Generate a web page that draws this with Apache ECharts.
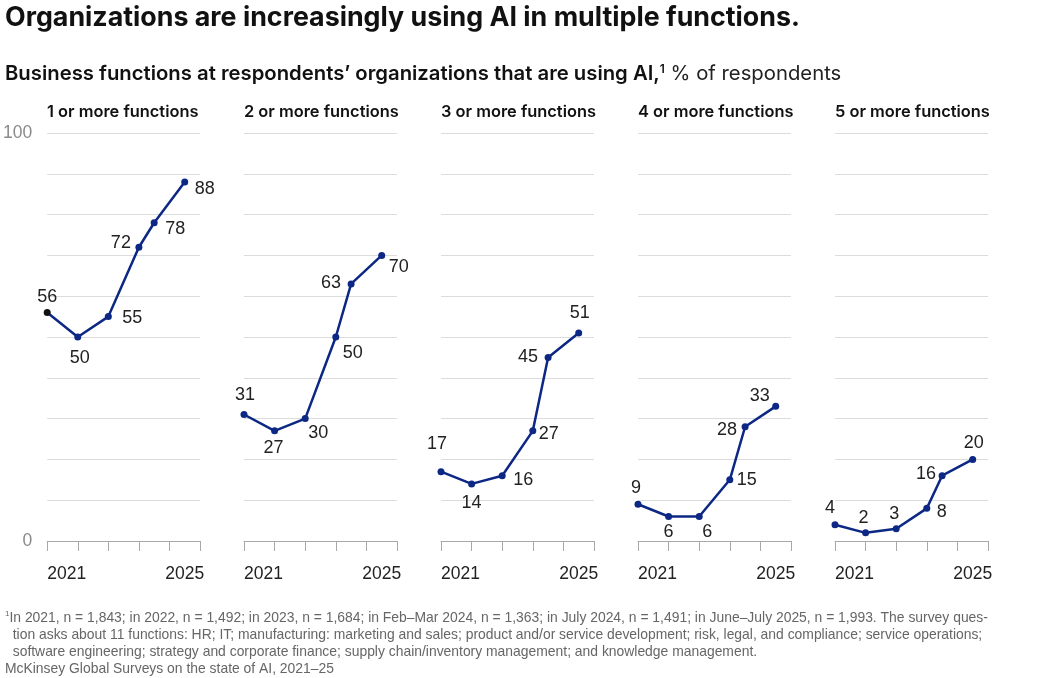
<!DOCTYPE html>
<html>
<head>
<meta charset="utf-8">
<script src="https://cdn.jsdelivr.net/npm/echarts@6/dist/echarts.min.js"></script>
<style>
html,body{margin:0;padding:0;background:#fff;}
#chart{width:1037px;height:678px;}
</style>
</head>
<body>
<div id="chart"></div>
<script>
// ---- Data ----
const panelTitles = ['1 or more functions','2 or more functions','3 or more functions','4 or more functions','5 or more functions'];
const surveyPeriods = ['2021','2022','2023','Feb–Mar 2024','July 2024','June–July 2025'];
const surveyTime = [2021, 2022, 2023, 2024, 2024.5, 2025.5];
const oneOrMore   = [56, 50, 55, 72, 78, 88];
const twoOrMore   = [31, 27, 30, 50, 63, 70];
const threeOrMore = [17, 14, 16, 27, 45, 51];
const fourOrMore  = [9, 6, 6, 15, 28, 33];
const fiveOrMore  = [4, 2, 3, 8, 16, 20];
const xTickLabels = ['2021', '2025'];
const yTickLabels = ['0', '100'];

// ---- Layout / styling (not data) ----
const seriesValues = [oneOrMore, twoOrMore, threeOrMore, fourOrMore, fiveOrMore];
const labelOffsets = [
  [[0,-15],[2,21],[24,1],[-18,-4],[21,6],[20,7]],
  [[1,-19],[-1,17],[13,14],[17,16],[-20,-1],[17,12]],
  [[-4,-28],[0,19],[21,4],[16,3],[-20,0],[1,-20]],
  [[-2,-16],[0,16],[8,16],[17,0],[-18,3],[-16,-10]],
  [[-5,-17],[-2,-15],[-2,-15],[15,4],[-16,-2],[1,-16]]
];
const gridLefts = [47, 244, 441, 638, 835];
const gridWidth = 153;
const navy = '#0c2784';
const numFont = '"Liberation Sans", Arial, sans-serif';
const headFont = 'Inter, "Liberation Sans", sans-serif';

const grids = [], xAxes = [], yAxes = [], series = [], graphics = [];
gridLefts.forEach((left, i) => {
  grids.push({left: left, top: 133, width: gridWidth, height: 408, containLabel: false});
  xAxes.push({
    type: 'value', gridIndex: i, min: 2021, max: 2026, interval: 1,
    axisLine: {show: true, lineStyle: {color: '#a8a8a8', width: 1}},
    axisTick: {show: true, length: 10, inside: false, lineStyle: {color: '#a8a8a8'}},
    splitLine: {show: false},
    axisLabel: {
      show: true, customValues: [surveyTime[0], surveyTime[surveyTime.length-1]],
      formatter: v => (v === surveyTime[0] ? xTickLabels[0] : xTickLabels[1]),
      alignMinLabel: 'left',
      color: '#222', fontSize: 17.5, fontFamily: numFont, margin: 24
    }
  });
  yAxes.push({
    type: 'value', gridIndex: i, min: 0, max: 100, interval: 10,
    axisLine: {show: false}, axisTick: {show: false},
    splitLine: {show: true, lineStyle: {color: '#dcdcdc', width: 1}},
    axisLabel: {
      show: i === 0, color: '#8a8a8a', fontSize: 17.5, fontFamily: numFont, margin: 15,
      formatter: v => (v === 0 ? yTickLabels[0] : (v === 100 ? yTickLabels[1] : ''))
    }
  });
  series.push({
    type: 'line', xAxisIndex: i, yAxisIndex: i,
    data: seriesValues[i].map((v, j) => ({
      value: [surveyTime[j], v],
      name: surveyPeriods[j],
      itemStyle: (i === 0 && j === 0) ? {color: '#111'} : undefined,
      label: {offset: labelOffsets[i][j]}
    })),
    symbol: 'circle', symbolSize: 7,
    lineStyle: {color: navy, width: 2.5},
    itemStyle: {color: navy},
    label: {
      show: true, position: 'inside', formatter: p => p.value[1],
      color: '#222', fontSize: 18, fontFamily: numFont, align: 'center', verticalAlign: 'middle'
    },
    emphasis: {disabled: true},
    animation: false
  });
  graphics.push({
    type: 'text', left: left, top: 104,
    style: {text: panelTitles[i], font: '600 16.4px ' + headFont, fill: '#111'}
  });
});

graphics.push({
  type: 'text', left: 5, top: 4,
  style: {text: 'Organizations are increasingly using AI in multiple functions.', font: '700 26.8px ' + headFont, fill: '#111'}
});
graphics.push({
  type: 'text', left: 5, top: 63,
  style: {
    text: '{b|Business functions at respondents’ organizations that are using AI,}{s|1}{r| % of respondents}',
    rich: {
      b: {font: '600 20.3px ' + headFont, fill: '#111', verticalAlign: 'bottom'},
      s: {font: '600 12px ' + headFont, fill: '#111', verticalAlign: 'top', padding: [0,0,9,0]},
      r: {font: '400 20.3px ' + headFont, fill: '#222', verticalAlign: 'bottom'}
    }
  }
});
const footFont = '13.9px "Liberation Sans", sans-serif';
graphics.push({
  type: 'text', left: 5, top: 610,
  style: {
    text: '{s|1}{t|In 2021, n = 1,843; in 2022, n = 1,492; in 2023, n = 1,684; in Feb–Mar 2024, n = 1,363; in July 2024, n = 1,491; in June–July 2025, n = 1,993. The survey ques-}\n' +
          '{t|  tion asks about 11 functions: HR; IT; manufacturing: marketing and sales; product and/or service development; risk, legal, and compliance; service operations;}\n' +
          '{t|  software engineering; strategy and corporate finance; supply chain/inventory management; and knowledge management.}\n' +
          '{t|McKinsey Global Surveys on the state of AI, 2021–25}',
    rich: {
      s: {font: '8px "Liberation Sans", sans-serif', fill: '#666', verticalAlign: 'top', lineHeight: 17},
      t: {font: footFont, fill: '#666', lineHeight: 17}
    }
  }
});

const chart = echarts.init(document.getElementById('chart'), null, {renderer: 'canvas'});
chart.setOption({
  backgroundColor: '#fff',
  animation: false,
  grid: grids, xAxis: xAxes, yAxis: yAxes, series: series, graphic: graphics
});
</script>
</body>
</html>
